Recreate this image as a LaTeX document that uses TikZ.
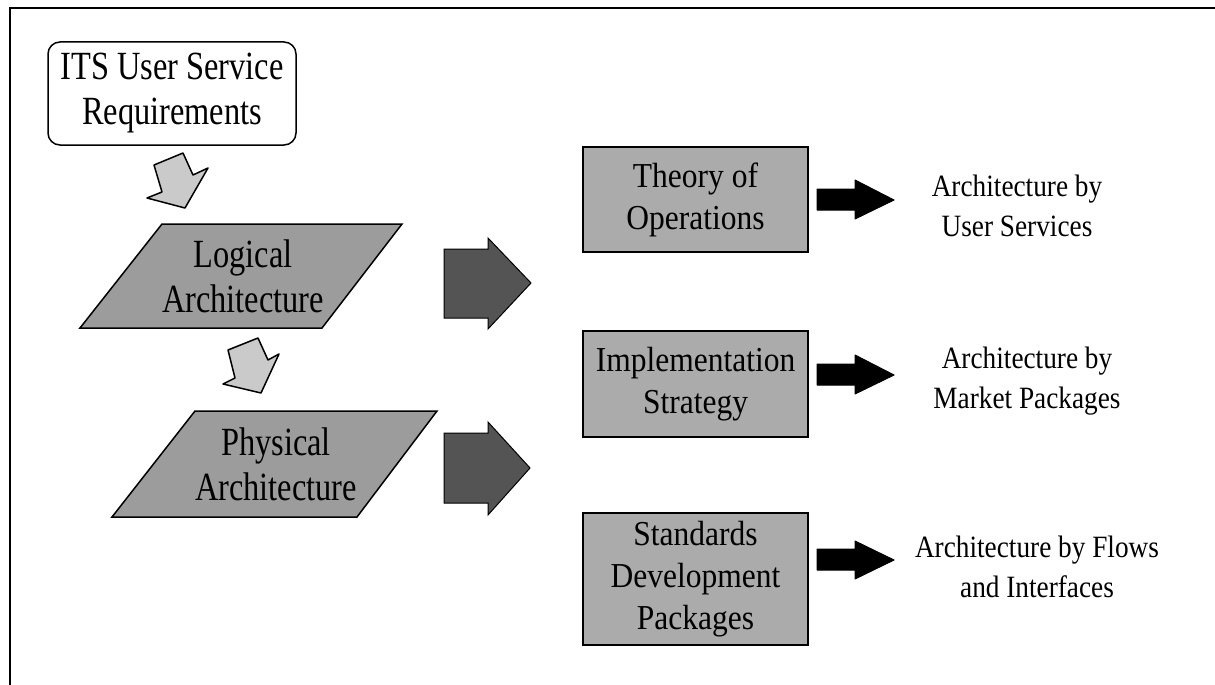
\documentclass[tikz,border=0pt]{standalone}
\usepackage{fontspec}
\setmainfont{Liberation Serif}
\newfontfamily\fntbig[FakeStretch=0.81]{Liberation Serif}
\newfontfamily\fntbx[FakeStretch=0.9]{Liberation Serif}
\newfontfamily\fntrt[FakeStretch=0.88]{Liberation Serif}
\definecolor{paragray}{HTML}{9C9C9C}
\definecolor{boxgray}{HTML}{ABABAB}
\definecolor{lightarrow}{HTML}{CACACA}
\definecolor{darkarrow}{HTML}{545454}
\begin{document}
\begin{tikzpicture}[x=1pt,y=-1pt,
  bigtext/.style={align=center,inner sep=0pt,font=\fntbig\fontsize{40}{45}\selectfont},
  itsbox/.style={draw,line width=1.5pt,rounded corners=12pt,fill=white,minimum width=248pt,minimum height=103pt,inner sep=0pt,align=center,font=\fntbig\fontsize{40}{45}\selectfont},
  graybox/.style={draw,line width=1.5pt,fill=boxgray,minimum width=225pt,inner sep=0pt,align=center,font=\fntbx\fontsize{35}{42}\selectfont},
  resulttext/.style={align=center,inner sep=0pt,font=\fntrt\fontsize{31}{40}\selectfont},
  para/.style={draw,line width=1.5pt,fill=paragray},
  lightblock/.style={draw,line width=1.5pt,fill=lightarrow,line join=round},
  darkblock/.style={draw,line width=1pt,fill=darkarrow},
  blackblock/.style={draw,line width=1pt,fill=black,line join=round}
]
\useasboundingbox (0,0) rectangle (1215,685);
\fill[white] (0,0) rectangle (1215,685);
\draw[line width=2pt] (10,685) -- (10,8) -- (1215,8);

% ITS user service requirements
\node[itsbox] (its) at (172,93.5) {ITS User Service\\Requirements};

% light tilted arrows
\draw[lightblock] (154,165) -- (183,153) -- (193,175) -- (208,168) -- (185,208) -- (147,198) -- (162,192) -- cycle;
\draw[lightblock] (228,350) -- (258,338) -- (268,360) -- (279,354) -- (261,393) -- (223,384) -- (235,378) -- cycle;

% parallelograms
\draw[para] (80,328) -- (162,224) -- (402,224) -- (322,328) -- cycle;
\node[bigtext] (logical) at (243,276) {Logical\\Architecture};
\draw[para] (112,517) -- (195,411) -- (437,411) -- (357,517) -- cycle;
\node[bigtext] (physical) at (276,464) {Physical\\Architecture};

% dark block arrows
\draw[darkblock] (444,249) -- (488,249) -- (488,238) -- (531,283) -- (488,329) -- (488,318) -- (444,318) -- cycle;
\draw[darkblock] (444,433) -- (488,433) -- (488,422) -- (530,468) -- (488,515) -- (488,503) -- (444,503) -- cycle;

% gray boxes
\node[graybox,minimum height=105pt] (theory) at (695.5,199.5) {Theory of\\Operations};
\node[graybox,minimum height=106pt] (impl) at (695.5,384) {Implementation\\Strategy};
\node[graybox,minimum height=132pt] (stand) at (695.5,579) {Standards\\Development\\Packages};

% black arrows
\draw[blackblock] (817,189) -- (855,189) -- (855,180) -- (894,200) -- (855,219) -- (855,210) -- (817,210) -- cycle;
\draw[blackblock] (817,364) -- (855,364) -- (855,355) -- (894,375) -- (855,394) -- (855,385) -- (817,385) -- cycle;
\draw[blackblock] (817,549) -- (855,549) -- (855,541) -- (894,560) -- (855,579) -- (855,570) -- (817,570) -- cycle;

% result texts
\node[resulttext] (res1) at (1017,206) {Architecture by\\User Services};
\node[resulttext] (res2) at (1027,381) {Architecture by\\Market Packages};
\node[resulttext] (res3) at (1037,567) {Architecture by Flows\\and Interfaces};
\end{tikzpicture}
\end{document}
